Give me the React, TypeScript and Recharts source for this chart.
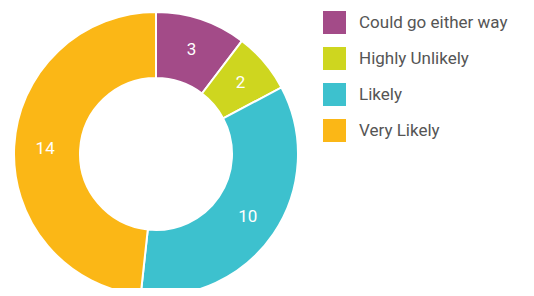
import { PieChart, Pie, Cell, Legend } from "recharts";

// categories and values
const categories = ["Could go either way", "Highly Unlikely", "Likely", "Very Likely"];
const counts = [3, 2, 10, 14];
const colors = ["#a34b88", "#ced61f", "#3dc1ce", "#fbb716"];

const data = categories.map((name, i) => ({ name, value: counts[i] }));

const RADIAN = Math.PI / 180;

// value label in the middle of the ring
const renderLabel = (props: any) => {
    const { cx, cy, midAngle, innerRadius, outerRadius, value } = props;
    const r = (innerRadius + outerRadius) / 2 + 2;
    const x = cx + r * Math.cos(-midAngle * RADIAN);
    const y = cy + r * Math.sin(-midAngle * RADIAN);
    return (
        <text
            x={x}
            y={y}
            fill="#ffffff"
            textAnchor="middle"
            dominantBaseline="central"
            fontSize={17}
            fontFamily="Roboto, sans-serif"
        >
            {value}
        </text>
    );
};

const LegendContent = () => (
    <div style={{ fontFamily: "Roboto, sans-serif" }}>
        {categories.map((name, i) => (
            <div key={name} style={{ display: "flex", alignItems: "center", height: 36 }}>
                <span style={{ width: 23, height: 23, background: colors[i], display: "inline-block" }} />
                <span style={{ marginLeft: 13, fontSize: 17, color: "#555555" }}>{name}</span>
            </div>
        ))}
    </div>
);

export default function App() {
    return (
        <div style={{ margin: -8 }}>
            <PieChart width={534} height={296} margin={{ top: 0, right: 0, bottom: 0, left: 0 }}>
                <Pie
                    data={data}
                    dataKey="value"
                    nameKey="name"
                    cx={156}
                    cy={154}
                    innerRadius={76}
                    outerRadius={142}
                    startAngle={90}
                    endAngle={-270}
                    stroke="#ffffff"
                    strokeWidth={2}
                    label={renderLabel}
                    labelLine={false}
                    isAnimationActive={false}
                >
                    {data.map((entry, index) => (
                        <Cell key={`cell-${index}`} fill={colors[index]} />
                    ))}
                </Pie>
                <Legend
                    layout="vertical"
                    verticalAlign="top"
                    align="right"
                    content={<LegendContent />}
                    wrapperStyle={{ left: 323, top: 4, width: 211 }}
                />
            </PieChart>
        </div>
    );
}
